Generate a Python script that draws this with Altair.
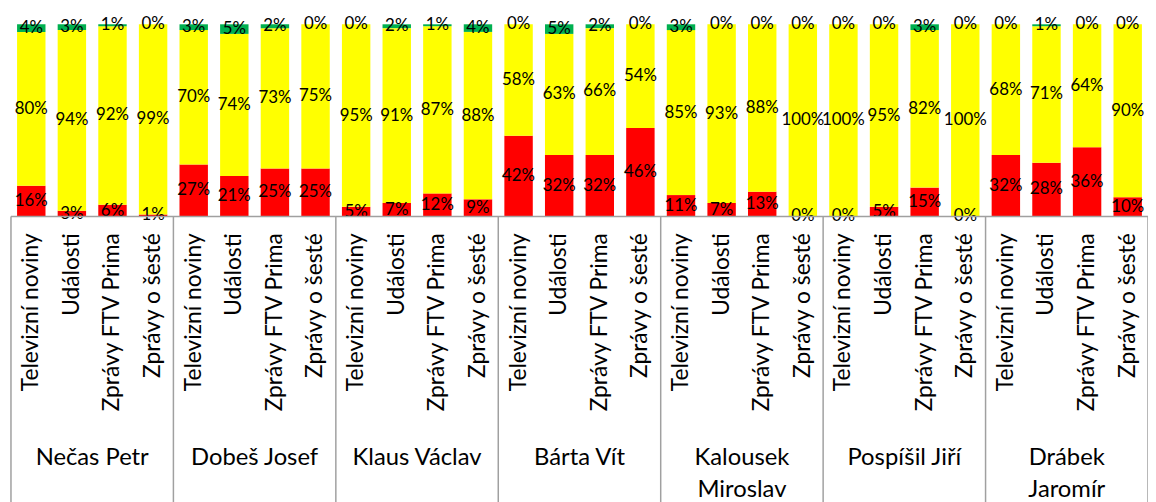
import altair as alt
import pandas as pd

groups = ["Nečas Petr", "Dobeš Josef", "Klaus Václav", "Bárta Vít",
          "Kalousek\nMiroslav", "Pospíšil Jiří", "Drábek\nJaromír"]
programs = ["Televizní noviny", "Události", "Zprávy FTV Prima", "Zprávy o šesté"]

red = [16, 3, 6, 1,
       27, 21, 25, 25,
       5, 7, 12, 9,
       42, 32, 32, 46,
       11, 7, 13, 0,
       0, 5, 15, 0,
       32, 28, 36, 10]
yellow = [80, 94, 92, 99,
          70, 74, 73, 75,
          95, 91, 87, 88,
          58, 63, 66, 54,
          85, 93, 88, 100,
          100, 95, 82, 100,
          68, 71, 64, 90]
green = [4, 3, 1, 0,
         3, 5, 2, 0,
         0, 2, 1, 4,
         0, 5, 2, 0,
         3, 0, 0, 0,
         0, 0, 3, 0,
         0, 1, 0, 0]

series_names = ["red", "yellow", "green"]
series_colors = ["#FF0000", "#FFFF00", "#00B050"]

rows = []
for i in range(len(groups) * len(programs)):
    for k, (s, vals) in enumerate(zip(series_names, [red, yellow, green])):
        rows.append({"idx": i, "x0": i + 0.15, "x1": i + 0.85, "xc": i + 0.5,
                     "series": s, "order": k, "value": vals[i],
                     "label": f"{vals[i]}%"})
df = pd.DataFrame(rows)

prog_df = pd.DataFrame({
    "xc": [i + 0.5 for i in range(len(groups) * len(programs))],
    "program": [programs[i % len(programs)] for i in range(len(groups) * len(programs))],
})
group_df = pd.DataFrame({
    "xc": [g * 4 + 2 for g in range(len(groups))],
    "group": groups,
})
sep_df = pd.DataFrame({"x": [g * 4 for g in range(len(groups) + 1)]})
axis_df = pd.DataFrame({"x": [0], "x2": [len(groups) * 4]})

W = 1148
H = 194
FONT = "Lato"
xs = alt.Scale(domain=[0, 28], nice=False, zero=False)
ys = alt.Scale(domain=[0, 1], nice=False, zero=False)

base = alt.Chart(df).transform_stack(
    stack="value", as_=["y0", "y1"], groupby=["idx"], offset="normalize",
    sort=[alt.SortField("order", order="ascending")]
).transform_calculate(mid="(datum.y0 + datum.y1) / 2")

bars = base.mark_rect().encode(
    x=alt.X("x0:Q", scale=xs, axis=None),
    x2="x1:Q",
    y=alt.Y("y0:Q", scale=ys, axis=None),
    y2="y1:Q",
    color=alt.Color("series:N", scale=alt.Scale(domain=series_names, range=series_colors), legend=None),
)

labels = base.mark_text(font=FONT, fontSize=17, color="black", baseline="middle", align="center").encode(
    x=alt.X("xc:Q", scale=xs, axis=None),
    y=alt.Y("mid:Q", scale=ys, axis=None),
    text="label:N",
)

axis_line = alt.Chart(axis_df).mark_rule(color="#A0A0A0", strokeWidth=1.5).encode(
    x=alt.X("x:Q", scale=xs, axis=None),
    x2="x2:Q",
    y=alt.value(H),
)

seps = alt.Chart(sep_df).mark_rule(color="#A0A0A0", strokeWidth=1.5).encode(
    x=alt.X("x:Q", scale=xs, axis=None),
    y=alt.value(H),
    y2=alt.value(H + 320),
)

prog_labels = alt.Chart(prog_df).mark_text(
    font=FONT, fontSize=23, color="black", angle=270, align="right", baseline="middle"
).encode(
    x=alt.X("xc:Q", scale=xs, axis=None),
    y=alt.value(H + 17),
    text="program:N",
)

group_labels = alt.Chart(group_df).mark_text(
    font=FONT, fontSize=24, color="black", align="center", baseline="alphabetic",
    lineBreak="\n", lineHeight=32
).encode(
    x=alt.X("xc:Q", scale=xs, axis=None),
    y=alt.value(H + 251),
    text="group:N",
)

chart = alt.layer(bars, labels, axis_line, seps, prog_labels, group_labels).properties(
    width=W, height=H,
    autosize=alt.AutoSizeParams(type="none"),
    padding={"left": 3, "top": 14, "right": 0, "bottom": 300},
).configure_view(stroke=None)

chart.save("out.html", embed_options={"renderer": "svg", "actions": False})
